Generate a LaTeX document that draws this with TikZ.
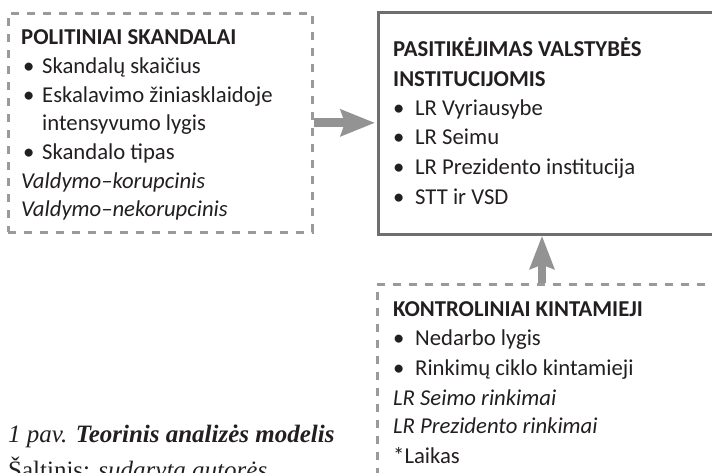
\documentclass[tikz,border=0pt]{standalone}
\usepackage{fontspec}
\setmainfont{Carlito}
\newfontfamily\capfont{Liberation Serif}
\usetikzlibrary{arrows.meta}
\definecolor{txtc}{HTML}{231F20}
\definecolor{dashc}{HTML}{9A9A9A}
\definecolor{solidc}{HTML}{6E6E6E}
\definecolor{arrc}{HTML}{939393}
\tikzset{
  txt/.style={anchor=base west, inner sep=0pt, text=txtc, font=\fontsize{22.7}{26}\selectfont},
  captxt/.style={anchor=base west, inner sep=0pt, text=txtc, font=\capfont\fontsize{25}{29}\selectfont},
  dashbox/.style={draw=dashc, line width=2.7pt, dash pattern=on 8pt off 8pt, anchor=north west, inner sep=0pt},
  solidbox/.style={draw=solidc, line width=2.7pt, anchor=north west, inner sep=0pt},
  bigarrow/.style={draw=arrc, line width=9pt, -{Stealth[length=34pt, width=26pt, inset=4pt]}},
  bigarrowv/.style={draw=arrc, line width=8pt, -{Stealth[length=33pt, width=24pt, inset=4pt]}},
}
\newcommand{\bul}[2]{\makebox[#1][l]{\hspace*{-2pt}•}#2}
\begin{document}
\begin{tikzpicture}[x=1pt, y=-1pt]
\useasboundingbox (0,0) rectangle (712,473);
% boxes
\node[dashbox, minimum width=304pt, minimum height=219pt] (pol) at (7,12) {};
\node[solidbox, minimum width=350pt, minimum height=222pt] (inst) at (377,11) {};
\node[dashbox, minimum width=350pt, minimum height=220pt] (ctrl) at (376,283) {};
% left box text
\node[txt] (p0) at (21,45) {\textbf{POLITINIAI SKANDALAI}};
\node[txt] (p1) at (25,74) {\bul{17pt}{Skandalų skaičius}};
\node[txt] (p2) at (25,102.5) {\bul{17pt}{Eskalavimo žiniasklaidoje}};
\node[txt] (p3) at (42,131) {intensyvumo lygis};
\node[txt] (p4) at (25,160) {\bul{17pt}{Skandalo tipas}};
\node[txt] (p5) at (21,188.5) {\textit{Valdymo–korupcinis}};
\node[txt] (p6) at (21,217) {\textit{Valdymo–nekorupcinis}};
% right box text
\node[txt] (i0) at (393,57) {\textbf{PASITIKĖJIMAS VALSTYBĖS}};
\node[txt] (i1) at (393,87) {\textbf{INSTITUCIJOMIS}};
\node[txt] (i2) at (395,116) {\bul{20pt}{LR Vyriausybe}};
\node[txt] (i3) at (395,145) {\bul{20pt}{LR Seimu}};
\node[txt] (i4) at (395,175) {\bul{20pt}{LR Prezidento institucija}};
\node[txt] (i5) at (395,205) {\bul{20pt}{STT ir VSD}};
% bottom box text
\node[txt] (k0) at (393,316) {\textbf{KONTROLINIAI KINTAMIEJI}};
\node[txt] (k1) at (395,345) {\bul{20pt}{Nedarbo lygis}};
\node[txt] (k2) at (395,375) {\bul{20pt}{Rinkimų ciklo kintamieji}};
\node[txt] (k3) at (393,405) {\textit{LR Seimo rinkimai}};
\node[txt] (k4) at (393,433) {\textit{LR Prezidento rinkimai}};
\node[txt] (k5) at (393,463) {*Laikas};
% caption
\node[captxt] (c1) at (8,442) {\textit{1 pav. \textbf{Teorinis analizės modelis}}};
\node[captxt] (c2) at (8,478) {Šaltinis: \textit{sudaryta autorės}};
% arrows
\coordinate (vx) at (542,0);
\draw[bigarrow] (pol.east) -- ([xshift=-2pt]inst.west |- pol.east);
\draw[bigarrowv] (ctrl.north -| vx) -- (inst.south -| vx);
\end{tikzpicture}
\end{document}
